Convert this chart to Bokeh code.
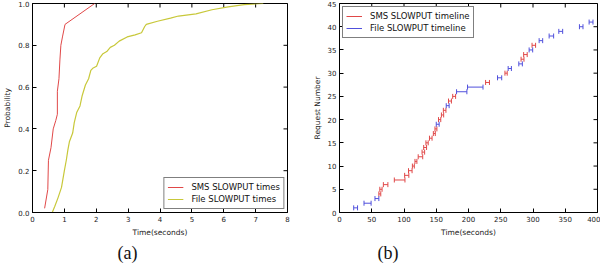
from math import pi
from bokeh.plotting import figure
from bokeh.layouts import row
from bokeh.models import (Range1d, FixedTicker, Legend, LegendItem,
                          Title, PrintfTickFormatter)
from bokeh.embed import file_html
from bokeh.resources import INLINE

# ---- (a) CDF data ----
sms_time = [0.38, 0.48, 0.50, 0.58, 0.65, 0.73, 0.78, 0.78, 0.83, 0.86, 0.89, 0.94, 1.02, 1.95]
sms_prob = [0.02, 0.11, 0.25, 0.31, 0.40, 0.44, 0.47, 0.58, 0.64, 0.73, 0.80, 0.84, 0.90, 1.00]

file_time = [0.62, 0.70, 0.80, 0.91, 1.00, 1.06, 1.11, 1.16, 1.26, 1.31, 1.39, 1.49, 1.56,
             1.66, 1.76, 1.83, 1.89, 2.01, 2.11, 2.21, 2.33, 2.44, 2.57, 2.72, 2.97, 3.22,
             3.42, 3.52, 3.57, 3.92, 4.33, 4.58, 5.13, 5.63, 6.14, 6.64, 7.24]
file_prob = [0.00, 0.03, 0.07, 0.12, 0.20, 0.25, 0.30, 0.34, 0.38, 0.43, 0.48, 0.51, 0.56,
             0.61, 0.64, 0.68, 0.69, 0.70, 0.74, 0.76, 0.77, 0.79, 0.80, 0.82, 0.84, 0.85,
             0.86, 0.89, 0.90, 0.915, 0.93, 0.94, 0.95, 0.97, 0.984, 0.995, 1.00]

# ---- (b) timeline data ----
req_num = list(range(1, 42))
req_start = [22, 38, 55, 61, 62.5, 68, 85, 101, 107, 113, 117, 122, 128, 130.5, 134, 139.5,
             145.5, 148, 150, 153.5, 158, 161, 165.5, 169, 175.5, 181.5, 198.5, 226.5, 245,
             256.5, 261.5, 278, 281.5, 285.5, 294, 298.5, 309.5, 325, 340, 372, 387]
req_end = [28, 49, 61, 64, 66, 75, 101.5, 107.5, 112.5, 116, 120, 129, 132, 135, 137.5, 143.5,
           148.5, 151, 154.5, 157, 161.5, 165, 170, 173.5, 180, 197.5, 222.5, 232.5, 251.5,
           260, 266.5, 283.5, 286, 291, 299.5, 304, 315, 332, 346, 377.5, 393]
req_kind = ["F", "F", "F", "S", "S", "S", "S", "S", "S", "S", "S", "S", "S", "S", "S", "S",
            "S", "S", "F", "S", "S", "S", "F", "S", "S", "F", "F", "S", "F", "S", "F", "F",
            "S", "S", "F", "S", "F", "F", "F", "F", "F"]

a_xrange = (0, 8)
a_yrange = (0, 1)
b_xrange = (0, 400)
b_yrange = (0, 45)
a_xticks = [0, 1, 2, 3, 4, 5, 6, 7, 8]
a_yticks = [0.0, 0.2, 0.4, 0.6, 0.8, 1.0]
b_xticks = [0, 50, 100, 150, 200, 250, 300, 350, 400]
b_yticks = [0, 5, 10, 15, 20, 25, 30, 35, 40, 45]

RED = "#e04848"
YEL = "#c8c83a"
BLUE = "#5050dc"
FONT = "DejaVu Sans"


def style(p, xt, yt, xlab, ylab, xr, yr, yfmt=None):
    for ax in (p.xaxis[0], p.yaxis[0]):
        ax.major_tick_in = 4
        ax.major_tick_out = 0
        ax.minor_tick_line_color = None
        ax.major_label_text_font = FONT
        ax.major_label_text_font_size = "7px"
        ax.major_label_text_color = "#222222"
        ax.axis_label_text_font = FONT
        ax.axis_label_text_font_size = "7.5px"
        ax.axis_label_text_font_style = "normal"
        ax.axis_label_text_color = "#222222"
        ax.axis_label_standoff = 3
        ax.major_label_standoff = 3
        ax.axis_line_color = "black"
    p.xaxis[0].ticker = FixedTicker(ticks=xt)
    p.yaxis[0].ticker = FixedTicker(ticks=yt)
    p.xaxis[0].axis_label = xlab
    p.yaxis[0].axis_label = ylab
    if yfmt:
        p.yaxis[0].formatter = PrintfTickFormatter(format=yfmt)
    # inward tick marks on the top and right frame edges (clipped to the frame)
    p.scatter(x=xt, y=[yr[1]] * len(xt), marker="dash", angle=pi / 2, size=8,
              line_color="black", line_width=1)
    p.scatter(x=[xr[1]] * len(yt), y=yt, marker="dash", size=8,
              line_color="black", line_width=1)
    p.grid.visible = False
    p.outline_line_color = "black"
    p.background_fill_color = "white"
    p.border_fill_color = "white"


# ---- panel (a) ----
pa = figure(width=300, height=263, output_backend="svg", toolbar_location=None,
            x_range=Range1d(*a_xrange), y_range=Range1d(*a_yrange),
            min_border_left=22, min_border_right=13, min_border_top=3, min_border_bottom=0)
style(pa, a_xticks, a_yticks, "Time(seconds)", "Probability", a_xrange, a_yrange, "%.1f")
r1 = pa.line(sms_time, sms_prob, line_color=RED, line_width=1)
r2 = pa.line(file_time, file_prob, line_color=YEL, line_width=1.2)
leg_a = Legend(items=[LegendItem(label="SMS SLOWPUT times", renderers=[r1]),
                      LegendItem(label="File SLOWPUT times", renderers=[r2])],
               location="bottom_right")
pa.add_layout(leg_a)

# ---- panel (b) ----
pb = figure(width=300, height=263, output_backend="svg", toolbar_location=None,
            x_range=Range1d(*b_xrange), y_range=Range1d(*b_yrange),
            min_border_left=39, min_border_right=3, min_border_top=3, min_border_bottom=0)
style(pb, b_xticks, b_yticks, "Time(seconds)", "Request Number", b_xrange, b_yrange)

leg_b_items = []
for kind, col, lab in (("S", RED, "SMS SLOWPUT timeline"), ("F", BLUE, "File SLOWPUT timeline")):
    ys = [y for y, k in zip(req_num, req_kind) if k == kind]
    s0 = [s for s, k in zip(req_start, req_kind) if k == kind]
    s1 = [e for e, k in zip(req_end, req_kind) if k == kind]
    seg = pb.segment(x0=s0, y0=ys, x1=s1, y1=ys, line_color=col, line_width=1)
    pb.scatter(x=s0 + s1, y=ys + ys, marker="dash", angle=pi / 2, size=5,
               line_color=col, line_width=1)
    leg_b_items.append(LegendItem(label=lab, renderers=[seg]))
leg_b = Legend(items=leg_b_items, location="top_left")
pb.add_layout(leg_b)

for leg, m in ((leg_a, 3), (leg_b, 3)):
    leg.label_text_font = FONT
    leg.label_text_font_size = "8.5px"
    leg.label_text_color = "#111111"
    leg.glyph_width = 16
    leg.glyph_height = 12
    leg.label_height = 12
    leg.label_standoff = 8
    leg.spacing = 0
    leg.padding = 3
    leg.margin = m
    leg.border_line_color = "black"
    leg.border_line_width = 1
    leg.background_fill_alpha = 1.0

# ---- captions ----
for p, txt, off in ((pa, "(a)", 85), (pb, "(b)", 38)):
    t = Title(text=txt, align="left", offset=off, text_font="Liberation Serif",
              text_font_size="18px", text_font_style="normal", text_color="#111111",
              standoff=2, vertical_align="bottom")
    p.add_layout(t, "below")

layout = row(pa, pb)
open("out.html", "w").write(file_html(layout, INLINE))
